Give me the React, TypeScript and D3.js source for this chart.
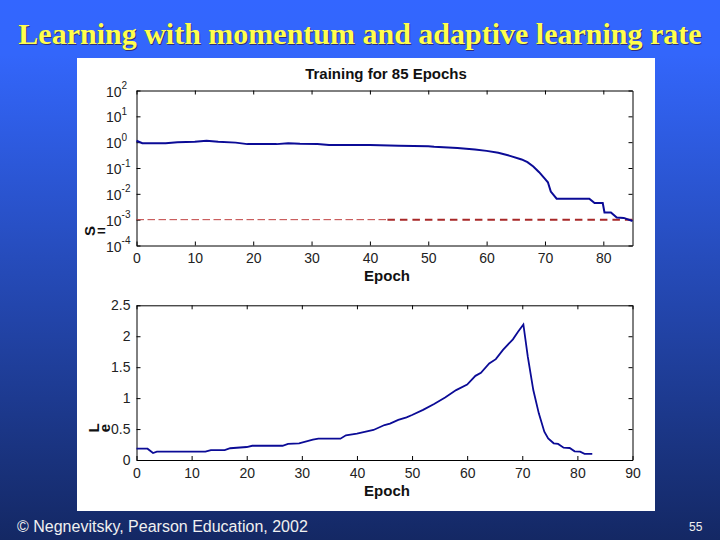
import React, { useRef, useEffect } from "react";
import * as d3 from "d3";

const perfEpochs = [0, 1, 5, 7, 10, 12, 14, 17, 19, 24, 26, 28, 31, 33, 40, 45, 50, 51, 55, 58, 60, 62, 64, 66, 67, 68, 69, 70, 70.5, 71, 72, 77.6, 78.5, 79.9, 80.2, 81.3, 82.3, 83.5, 85];
const perfValues = [1.13, 0.91, 0.91, 1.0, 1.03, 1.13, 1.03, 0.96, 0.84, 0.84, 0.91, 0.86, 0.84, 0.77, 0.77, 0.72, 0.7, 0.66, 0.6, 0.52, 0.46, 0.386, 0.295, 0.214, 0.168, 0.115, 0.069, 0.038, 0.028, 0.0123, 0.0065, 0.0065, 0.0044, 0.0044, 0.0019, 0.0019, 0.0012, 0.00117, 0.00089];
const goal = 1e-3;

const lrEpochs = [0, 2, 3, 3.7, 12.5, 13.5, 16, 17, 20, 21, 26.5, 27.5, 29.5, 32, 33, 37, 38, 40, 43, 45, 46, 47.5, 49, 50, 52, 54, 56, 58, 60, 61.5, 62.5, 64, 65.2, 66.5, 68.3, 69.2, 70.2, 71, 72, 73, 74, 74.7, 75.7, 76.5, 77.5, 78.6, 79.5, 80.5, 81.3, 82.7];
const lrValues = [0.183, 0.183, 0.113, 0.135, 0.135, 0.16, 0.16, 0.19, 0.21, 0.23, 0.23, 0.26, 0.27, 0.33, 0.345, 0.345, 0.4, 0.425, 0.485, 0.565, 0.587, 0.647, 0.69, 0.727, 0.81, 0.905, 1.01, 1.13, 1.22, 1.36, 1.41, 1.56, 1.63, 1.78, 1.95, 2.07, 2.19, 1.67, 1.13, 0.754, 0.458, 0.35, 0.27, 0.26, 0.2, 0.194, 0.14, 0.135, 0.1, 0.1];

const perfXTicks = [0, 10, 20, 30, 40, 50, 60, 70, 80];
const perfYExponents = [2, 1, 0, -1, -2, -3, -4];
const lrXTicks = [0, 10, 20, 30, 40, 50, 60, 70, 80, 90];
const lrYTicks = [0, 0.5, 1, 1.5, 2, 2.5];

const SANS = "'Liberation Sans', Arial, sans-serif";
const LINE = "#0b0b96";
const left = 136.5;
const right = 632.5;

function drawBox(g: any, x: any, y: any, xTicks: number[], yTicks: number[], yFormat: any) {
  const [x0, x1] = x.range();
  const [y0, y1] = y.range();
  const bottomAxis = d3.axisBottom(x).tickValues(xTicks).tickSize(-4).tickSizeOuter(0).tickPadding(8);
  const topAxis = d3.axisTop(x).tickValues(xTicks).tickSize(-4).tickSizeOuter(0).tickFormat(() => "");
  const leftAxis = d3.axisLeft(y).tickValues(yTicks).tickSize(-4).tickSizeOuter(0).tickPadding(6).tickFormat(yFormat);
  const rightAxis = d3.axisRight(y).tickValues(yTicks).tickSize(-4).tickSizeOuter(0).tickFormat(() => "");

  g.append("g").attr("transform", `translate(0,${y0})`).call(bottomAxis);
  g.append("g").attr("transform", `translate(0,${y1})`).call(topAxis);
  g.append("g").attr("transform", `translate(${x0},0)`).call(leftAxis);
  g.append("g").attr("transform", `translate(${x1},0)`).call(rightAxis);

  g.selectAll("path.domain").attr("stroke", "#000").attr("stroke-width", 1);
  g.selectAll(".tick line").attr("stroke", "#000");
  g.selectAll("text")
    .attr("font-family", SANS)
    .attr("font-size", 14)
    .attr("fill", "#222");
}

const App: React.FC = () => {
  const svgRef = useRef<SVGSVGElement | null>(null);

  useEffect(() => {
    const svg = d3.select(svgRef.current);
    svg.selectAll(".chart").remove();
    const chart = svg.append("g").attr("class", "chart");

    // Upper plot: performance on a log scale
    const x1 = d3.scaleLinear().domain([0, 85]).range([left, right]);
    const y1 = d3.scaleLog().domain([1e-4, 1e2]).range([245.5, 90.5]);
    const top = chart.append("g");
    drawBox(top, x1, y1, perfXTicks, perfYExponents.map((e) => Math.pow(10, e)), () => "");

    // Tick labels with superscript exponents
    top
      .selectAll("text.exp")
      .data(perfYExponents)
      .enter()
      .append("text")
      .attr("class", "exp")
      .attr("x", 106)
      .attr("y", (d) => y1(Math.pow(10, d)) + 6)
      .attr("font-family", SANS)
      .attr("fill", "#222")
      .attr("font-size", 14)
      .each(function (d) {
        const t = d3.select(this);
        t.append("tspan").text("10");
        t.append("tspan").attr("dy", -7.5).attr("font-size", 10).text(d < 0 ? `-${-d}` : `${d}`);
      });

    const perfLine = d3
      .line<number>()
      .x((d, i) => x1(perfEpochs[i]))
      .y((d) => y1(d));

    top
      .append("line")
      .attr("x1", x1(0))
      .attr("x2", x1(43))
      .attr("y1", y1(goal))
      .attr("y2", y1(goal))
      .attr("stroke", "#c04040")
      .attr("stroke-width", 1)
      .attr("stroke-dasharray", "7.5 3.5");
    top
      .append("line")
      .attr("x1", x1(43))
      .attr("x2", x1(85))
      .attr("y1", y1(goal))
      .attr("y2", y1(goal))
      .attr("stroke", "#a82828")
      .attr("stroke-width", 2)
      .attr("stroke-dasharray", "7.5 5");
    top
      .append("path")
      .attr("d", perfLine(perfValues))
      .attr("fill", "none")
      .attr("stroke", LINE)
      .attr("stroke-width", 2);

    // Lower plot: learning rate
    const x2 = d3.scaleLinear().domain([0, 90]).range([left, right]);
    const y2 = d3.scaleLinear().domain([0, 2.5]).range([460, 305.3]);
    const bottom = chart.append("g");
    drawBox(bottom, x2, y2, lrXTicks, lrYTicks, (d: number) => `${d}`);

    const lrLine = d3
      .line<number>()
      .x((d, i) => x2(lrEpochs[i]))
      .y((d) => y2(d));

    bottom
      .append("path")
      .attr("d", lrLine(lrValues))
      .attr("fill", "none")
      .attr("stroke", LINE)
      .attr("stroke-width", 1.8);
  }, []);

  const boldLabel = { fontFamily: SANS, fontWeight: "bold" as const, fontSize: 15, fill: "#111" };

  return (
    <svg
      ref={svgRef}
      width={720}
      height={540}
      style={{ position: "absolute", left: 0, top: 0 }}
    >
      <defs>
        <linearGradient id="bg" x1="0" y1="0" x2="0" y2="1">
          <stop offset="0" stopColor="#3366ff" />
          <stop offset="0.1" stopColor="#3366fb" />
          <stop offset="1" stopColor="#142864" />
        </linearGradient>
      </defs>
      <rect width={720} height={540} fill="url(#bg)" />
      <rect x={77} y={58} width={578} height={453} fill="#fff" />
      <text
        x={360}
        y={44}
        textAnchor="middle"
        fontFamily="'Liberation Serif', serif"
        fontWeight="bold"
        fontSize={30}
        fill="#30307a"
        transform="translate(1,1)"
      >
        Learning with momentum and adaptive learning rate
      </text>
      <text
        x={360}
        y={44}
        textAnchor="middle"
        fontFamily="'Liberation Serif', serif"
        fontWeight="bold"
        fontSize={30}
        fill="#ffff4d"
      >
        Learning with momentum and adaptive learning rate
      </text>
      <text x={386} y={79} textAnchor="middle" {...boldLabel}>
        Training for 85 Epochs
      </text>
      <text x={387} y={281} textAnchor="middle" {...boldLabel}>
        Epoch
      </text>
      <text x={387} y={496} textAnchor="middle" {...boldLabel}>
        Epoch
      </text>
      {/* y labels: the glyphs sit side by side, each one turned */}
      <text transform="translate(95,231) rotate(-90)" textAnchor="middle" {...boldLabel}>
        S
      </text>
      <text x={101.5} y={236} textAnchor="middle" {...boldLabel}>
        =
      </text>
      <text transform="translate(99,428) rotate(-90)" textAnchor="middle" {...boldLabel}>
        L
      </text>
      <text transform="translate(110,428) rotate(-90)" textAnchor="middle" {...boldLabel}>
        e
      </text>
      <text x={17} y={532} fontFamily={SANS} fontSize={16} fill="#f0f0f0">
        © Negnevitsky, Pearson Education, 2002
      </text>
      <text x={689} y={531} fontFamily={SANS} fontSize={12} fill="#f0f0f0">
        55
      </text>
    </svg>
  );
};

export default App;
